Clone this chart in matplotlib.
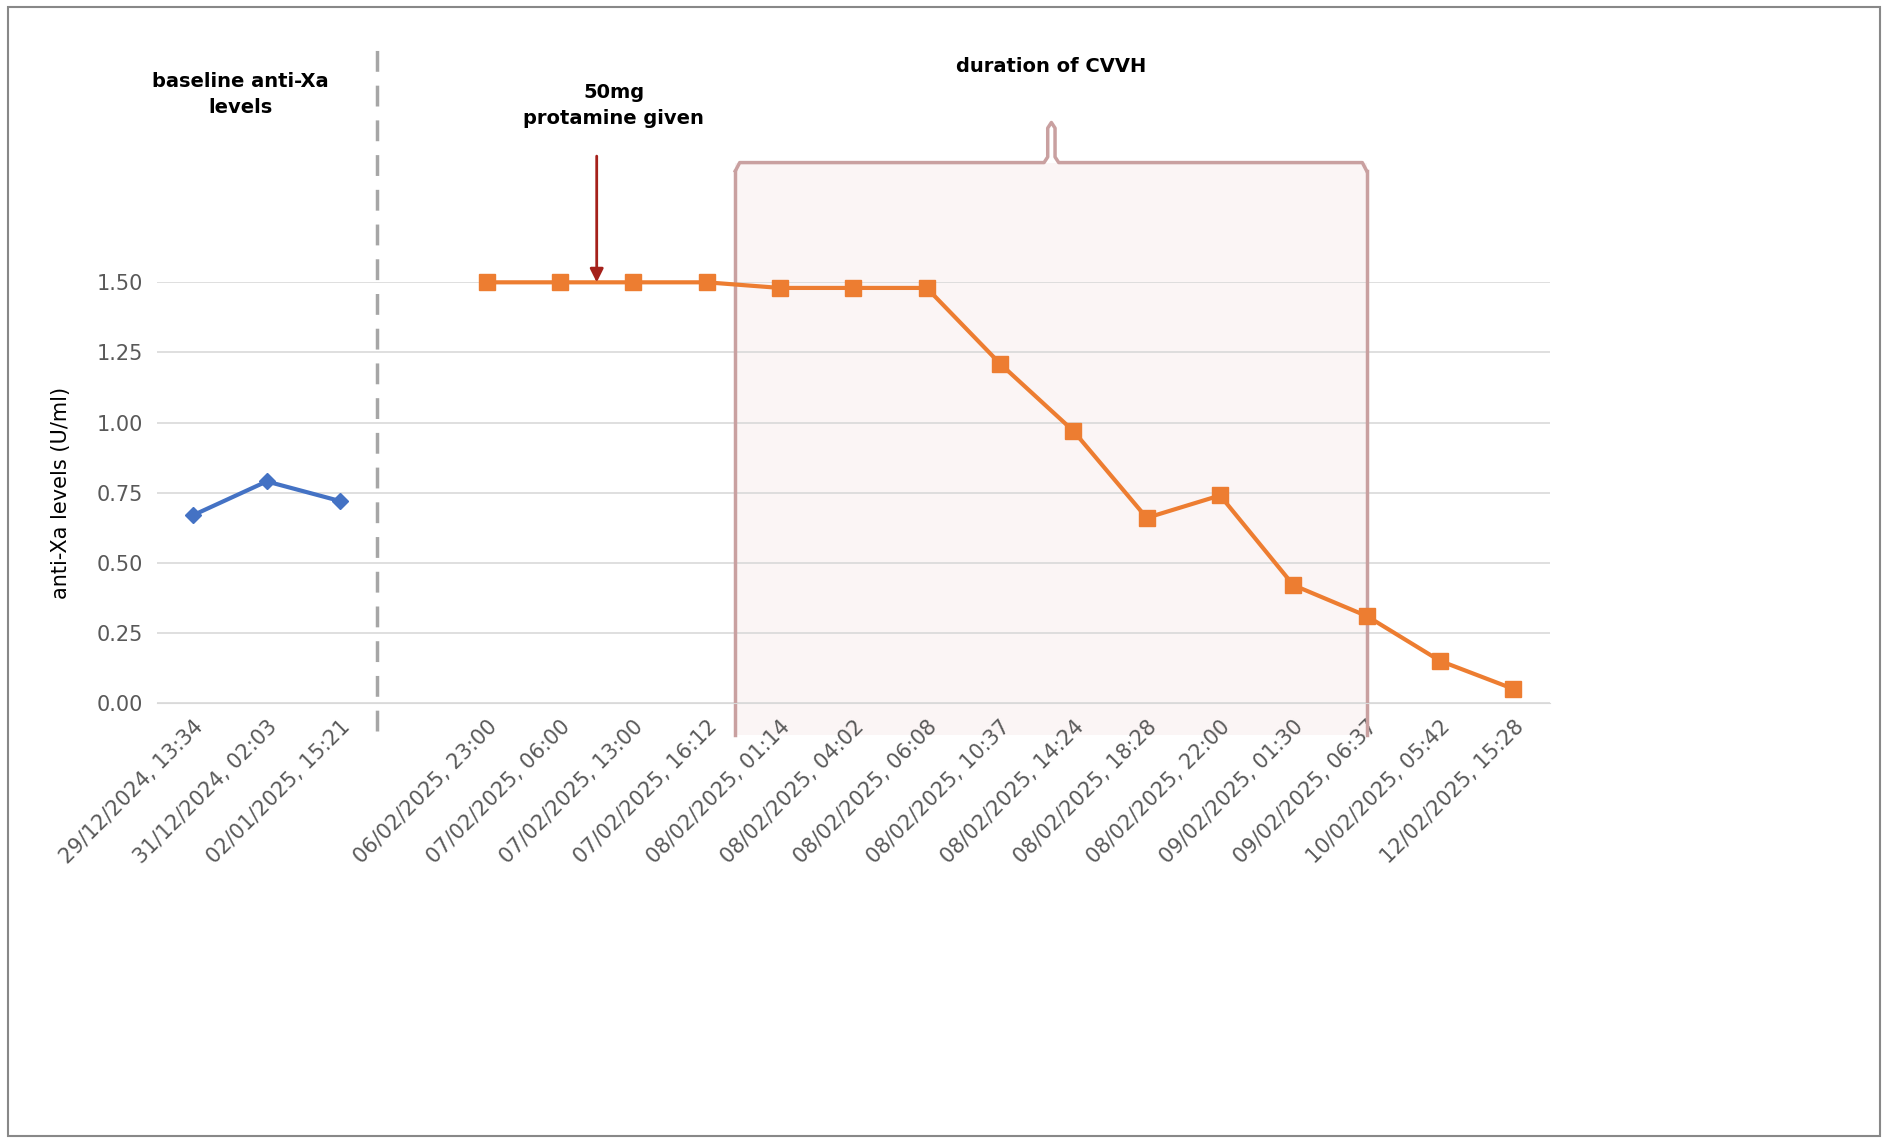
import matplotlib
matplotlib.use("Agg")
import matplotlib.pyplot as plt
from matplotlib.patches import Rectangle
import numpy as np

labels = ["29/12/2024, 13:34", "31/12/2024, 02:03", "02/01/2025, 15:21", "",
          "06/02/2025, 23:00", "07/02/2025, 06:00", "07/02/2025, 13:00", "07/02/2025, 16:12",
          "08/02/2025, 01:14", "08/02/2025, 04:02", "08/02/2025, 06:08", "08/02/2025, 10:37",
          "08/02/2025, 14:24", "08/02/2025, 18:28", "08/02/2025, 22:00", "09/02/2025, 01:30",
          "09/02/2025, 06:37", "10/02/2025, 05:42", "12/02/2025, 15:28"]
baseline = [0.67, 0.79, 0.72]
treatment = [1.50, 1.50, 1.50, 1.50, 1.48, 1.48, 1.48, 1.21, 0.97, 0.66, 0.74, 0.42, 0.31, 0.15, 0.05]
yticks = [0.0, 0.25, 0.5, 0.75, 1.0, 1.25, 1.5]

fig = plt.figure(figsize=(18.88, 11.43), dpi=100)
fig.patches.append(Rectangle((0.004, 0.006), 0.992, 0.988, transform=fig.transFigure,
                             fill=False, edgecolor="#888888", lw=1.5))
ax = fig.add_axes([0.083, 0.385, 0.738, 0.368])
x = np.arange(len(labels))
ax.set_xlim(-0.5, len(labels) - 0.5)
ax.set_ylim(0, 1.5)
ax.set_yticks(yticks)
ax.set_yticklabels([f"{v:.2f}" for v in yticks], color="#595959", fontsize=15)
ax.set_xticks(x)
ax.set_xticklabels(labels, rotation=45, ha="right", rotation_mode="anchor", color="#595959", fontsize=15)
ax.tick_params(length=0, pad=10)
for s in ["top", "right", "left"]:
    ax.spines[s].set_visible(False)
ax.spines["bottom"].set_color("#d9d9d9")
ax.grid(axis="y", color="#d9d9d9", lw=1.2)
ax.set_axisbelow(True)
ax.set_ylabel("anti-Xa levels (U/ml)", fontsize=15, labelpad=18)

# CVVH box
x0, x1, ytop, ybot = 7.39, 16.0, 1.927, -0.115
ax.add_patch(Rectangle((x0, ybot), x1 - x0, ytop - ybot, facecolor="#fbf5f5",
                       edgecolor="none", clip_on=False, zorder=0))
ec = "#c9a0a0"
ax.plot([x0, x0], [ybot, ytop - 0.03], color=ec, lw=2.5, clip_on=False, zorder=1)
ax.plot([x1, x1], [ybot, ytop - 0.03], color=ec, lw=2.5, clip_on=False, zorder=1)
xm = 11.7
bx = [x0, x0 + 0.06, xm - 0.1, xm - 0.05, xm - 0.05, xm, xm + 0.05, xm + 0.05, xm + 0.1, x1 - 0.06, x1]
by = [ytop - 0.03, ytop, ytop, ytop + 0.02, 2.05, 2.07, 2.05, ytop + 0.02, ytop, ytop, ytop - 0.03]
ax.plot(bx, by, color=ec, lw=2.5, clip_on=False, zorder=1)

# dashed separator
ax.plot([2.5, 2.5], [-0.1, 2.37], color="#a6a6a6", lw=2.5, ls=(0, (6, 4)), clip_on=False)

ax.plot(x[:3], baseline, color="#4472c4", lw=3, marker="D", ms=8, zorder=3, clip_on=False)
ax.plot(x[4:], treatment, color="#ed7d31", lw=3, marker="s", ms=11, zorder=3, clip_on=False)

ax.annotate("", xy=(5.5, 1.49), xytext=(5.5, 1.96),
            arrowprops=dict(arrowstyle="-|>", color="#a5211b", lw=2, mutation_scale=20),
            annotation_clip=False)
ax.text(5.73, 2.13, "50mg\nprotamine given", ha="center", va="center", fontsize=14,
        fontweight="bold", linespacing=1.5)
ax.text(0.64, 2.17, "baseline anti-Xa\nlevels", ha="center", va="center", fontsize=14,
        fontweight="bold", linespacing=1.5)
ax.text(11.7, 2.27, "duration of CVVH", ha="center", va="center", fontsize=14, fontweight="bold")

fig.savefig("out.png", dpi=100)
